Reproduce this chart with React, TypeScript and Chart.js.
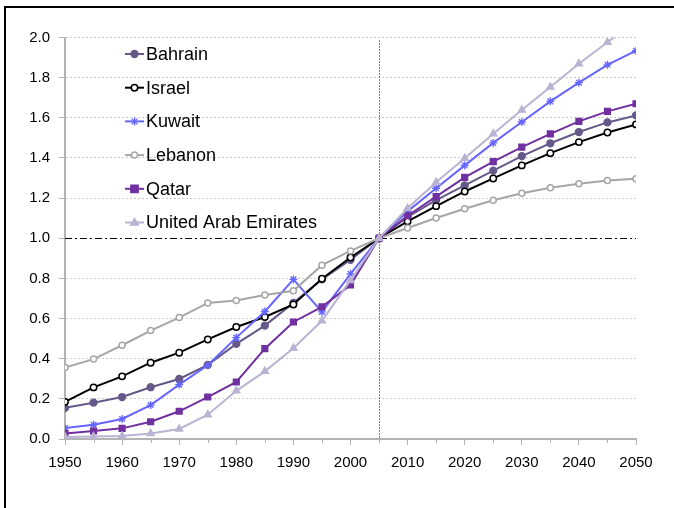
import { useEffect, useRef } from "react";
import { Chart, registerables } from "chart.js";

Chart.register(...registerables);

const years = [1950, 1955, 1960, 1965, 1970, 1975, 1980, 1985, 1990, 1995, 2000, 2005, 2010, 2015, 2020, 2025, 2030, 2035, 2040, 2045, 2050];
const seriesNames = ["Bahrain", "Israel", "Kuwait", "Lebanon", "Qatar", "United Arab Emirates"];

const bahrain = [0.155, 0.181, 0.209, 0.258, 0.299, 0.369, 0.474, 0.565, 0.678, 0.795, 0.893, 1.0, 1.106, 1.19, 1.263, 1.337, 1.409, 1.473, 1.529, 1.577, 1.612];
const israel = [0.185, 0.257, 0.312, 0.38, 0.43, 0.496, 0.558, 0.608, 0.67, 0.798, 0.904, 1.0, 1.084, 1.16, 1.233, 1.298, 1.363, 1.424, 1.479, 1.527, 1.567];
const kuwait = [0.055, 0.071, 0.1, 0.169, 0.271, 0.367, 0.505, 0.635, 0.795, 0.633, 0.823, 1.0, 1.134, 1.249, 1.363, 1.475, 1.579, 1.682, 1.775, 1.864, 1.934];
const lebanon = [0.356, 0.398, 0.467, 0.54, 0.605, 0.678, 0.69, 0.717, 0.738, 0.866, 0.937, 1.0, 1.051, 1.101, 1.147, 1.189, 1.224, 1.252, 1.271, 1.288, 1.297];
const qatar = [0.028, 0.04, 0.053, 0.086, 0.138, 0.209, 0.284, 0.45, 0.583, 0.658, 0.767, 1.0, 1.112, 1.207, 1.303, 1.382, 1.454, 1.52, 1.582, 1.632, 1.67];
const uae = [0.01, 0.012, 0.015, 0.027, 0.05, 0.121, 0.24, 0.337, 0.452, 0.589, 0.79, 1.0, 1.149, 1.279, 1.398, 1.521, 1.639, 1.753, 1.869, 1.976, 2.08];

const seriesValues = [bahrain, israel, kuwait, lebanon, qatar, uae];

const xMin = 1950;
const xMax = 2050;
const xMajorStep = 10;
const minorTickYears = [1955, 1965, 1975, 1985, 1995, 2005, 2015, 2025, 2035, 2045];
const yMin = 0;
const yMax = 2;
const yStep = 0.2;
const baseYear = 2005;
const baseValue = 1.0;

const styles = [
  { color: "#66598a", fill: "#66598a", point: "circle", radius: 3.4 },
  { color: "#000000", fill: "#ffffff", point: "circle", radius: 3.2 },
  { color: "#6666ff", fill: "#6666ff", point: "star", radius: 4 },
  { color: "#a6a6a6", fill: "#ffffff", point: "circle", radius: 3 },
  { color: "#7030a0", fill: "#7030a0", point: "rect", radius: 4 },
  { color: "#bab3d1", fill: "#bab3d1", point: "triangle", radius: 4 },
];

const FONT = "'Liberation Sans', Arial, sans-serif";

function drawMarker(ctx: any, ds: any, cx: number, cy: number) {
  const r = ds.pointRadius;
  ctx.save();
  ctx.fillStyle = ds.pointBackgroundColor;
  ctx.strokeStyle = ds.pointBorderColor;
  ctx.lineWidth = ds.pointBorderWidth;
  ctx.beginPath();
  if (ds.pointStyle === "circle") {
    ctx.arc(cx, cy, r, 0, Math.PI * 2);
    ctx.fill();
    ctx.stroke();
  } else if (ds.pointStyle === "rect") {
    ctx.rect(cx - r * 0.9, cy - r * 0.9, r * 1.8, r * 1.8);
    ctx.fill();
    ctx.stroke();
  } else if (ds.pointStyle === "triangle") {
    ctx.moveTo(cx, cy - r);
    ctx.lineTo(cx + r * 0.95, cy + r * 0.6);
    ctx.lineTo(cx - r * 0.95, cy + r * 0.6);
    ctx.closePath();
    ctx.fill();
    ctx.stroke();
  } else {
    ctx.moveTo(cx - r * 0.7, cy - r * 0.7);
    ctx.lineTo(cx + r * 0.7, cy + r * 0.7);
    ctx.moveTo(cx + r * 0.7, cy - r * 0.7);
    ctx.lineTo(cx - r * 0.7, cy + r * 0.7);
    ctx.moveTo(cx, cy - r);
    ctx.lineTo(cx, cy + r);
    ctx.stroke();
  }
  ctx.restore();
}

const overlayPlugin = {
  id: "overlay",
  beforeDatasetsDraw(chart: any) {
    const { ctx, chartArea, scales } = chart;
    const x = scales.x;
    const y = scales.y;
    ctx.save();
    const yb = Math.round(y.getPixelForValue(baseValue)) + 0.5;
    ctx.strokeStyle = "#000000";
    ctx.lineWidth = 1;
    ctx.setLineDash([7, 3, 2, 3]);
    ctx.beginPath();
    ctx.moveTo(chartArea.left, yb);
    ctx.lineTo(chartArea.right, yb);
    ctx.stroke();
    const xb = Math.round(x.getPixelForValue(baseYear)) + 0.5;
    ctx.setLineDash([1, 2]);
    ctx.beginPath();
    ctx.moveTo(xb, chartArea.top + 3);
    ctx.lineTo(xb, chartArea.bottom + 2);
    ctx.stroke();
    ctx.restore();
  },
  afterDraw(chart: any) {
    const { ctx, chartArea, scales } = chart;
    const x = scales.x;
    ctx.save();
    ctx.strokeStyle = "#b3b3b3";
    ctx.lineWidth = 1;
    for (const yr of minorTickYears) {
      const px = Math.round(x.getPixelForValue(yr)) + 0.5;
      ctx.beginPath();
      ctx.moveTo(px, chartArea.bottom);
      ctx.lineTo(px, chartArea.bottom + 4);
      ctx.stroke();
    }
    const lx = chartArea.left + 60;
    const ly0 = chartArea.top + 16.5;
    const dy = 33.7;
    ctx.font = `18px ${FONT}`;
    ctx.textBaseline = "middle";
    ctx.textAlign = "left";
    chart.data.datasets.forEach((ds: any, i: number) => {
      const yy = ly0 + i * dy;
      ctx.strokeStyle = ds.borderColor;
      ctx.lineWidth = 2;
      ctx.setLineDash([]);
      ctx.beginPath();
      ctx.moveTo(lx, yy);
      ctx.lineTo(lx + 19, yy);
      ctx.stroke();
      drawMarker(ctx, ds, lx + 9.5, yy);
      ctx.fillStyle = "#000000";
      ctx.fillText(ds.label, lx + 21, yy + 1);
    });
    ctx.restore();
  },
};

export default function App() {
  const ref = useRef<HTMLCanvasElement | null>(null);

  useEffect(() => {
    if (!ref.current) return;
    const datasets = seriesNames.map((name, i) => ({
      label: name,
      data: years.map((yr, j) => ({ x: yr, y: seriesValues[i][j] })),
      borderColor: styles[i].color,
      backgroundColor: styles[i].fill,
      borderWidth: 2,
      pointStyle: styles[i].point,
      pointRadius: styles[i].radius,
      pointBackgroundColor: styles[i].fill,
      pointBorderColor: styles[i].color,
      pointBorderWidth: styles[i].point === "star" ? 1.3 : 1.5,
      tension: 0,
      order: -i,
    }));

    const chart = new Chart(ref.current, {
      type: "line",
      data: { datasets },
      plugins: [overlayPlugin],
      options: {
        animation: false,
        responsive: false,
        devicePixelRatio: 1,
        layout: { padding: { left: 0, right: 38, top: 37.5, bottom: 0 } },
        plugins: { legend: { display: false }, tooltip: { enabled: false } },
        scales: {
          x: {
            type: "linear",
            min: xMin,
            max: xMax,
            afterFit: (s: any) => {
              s.height = 69;
            },
            ticks: {
              stepSize: xMajorStep,
              color: "#000000",
              font: { family: FONT, size: 15 },
              padding: 9,
              maxRotation: 0,
              autoSkip: false,
              callback: (v: any) => String(v),
            },
            grid: {
              drawOnChartArea: false,
              tickLength: 6,
              tickColor: "#b3b3b3",
              tickWidth: 1,
            },
            border: { color: "#b3b3b3", width: 2 },
          },
          y: {
            type: "linear",
            min: yMin,
            max: yMax,
            afterFit: (s: any) => {
              s.width = 65;
            },
            ticks: {
              stepSize: yStep,
              color: "#000000",
              font: { family: FONT, size: 15 },
              padding: 9,
              callback: (v: any) => Number(v).toFixed(1),
            },
            grid: {
              color: (c: any) => {
                const v = c.tick ? c.tick.value : 0;
                if (Math.abs(v - baseValue) < 1e-6 || Math.abs(v) < 1e-6) return "rgba(0,0,0,0)";
                return "#cccccc";
              },
              lineWidth: 1,
              tickLength: 6,
              tickColor: "#b3b3b3",
              tickWidth: 1,
            },
            border: { color: "#b3b3b3", width: 2, dash: [2, 2] },
          },
        },
      } as any,
    });
    return () => chart.destroy();
  }, []);

  return (
    <div style={{ position: "fixed", left: 0, top: 0, width: 674, height: 508, overflow: "hidden", background: "#ffffff" }}>
      <div
        style={{
          position: "absolute",
          left: 4,
          top: 6,
          width: 720,
          height: 600,
          borderLeft: "2px solid #000",
          borderTop: "2px solid #000",
          boxSizing: "border-box",
        }}
      />
      <canvas ref={ref} width={674} height={508} style={{ position: "absolute", left: 0, top: 0, width: 674, height: 508 }} />
    </div>
  );
}
